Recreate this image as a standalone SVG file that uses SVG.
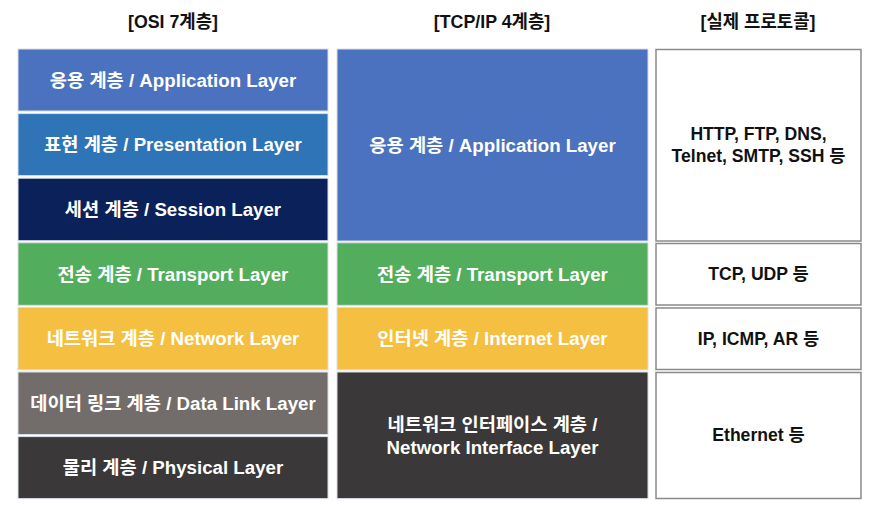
<svg xmlns="http://www.w3.org/2000/svg" width="872" height="505" viewBox="0 0 872 505">
<style>
text{font-family:"Liberation Sans","Noto Sans CJK KR",sans-serif;font-weight:bold;text-anchor:middle;dominant-baseline:central}
.h{font-size:17.8px;fill:#111}
.w{font-size:18.7px;fill:#fff}
.b{font-size:17.6px;fill:#111}
.box{stroke:#d9dde6;stroke-width:1}
.pr{fill:#fff;stroke:#8a8a8a;stroke-width:1.5}
</style>
<rect width="872" height="505" fill="#fff"/>
<g id="headers">
<text class="h" x="173" y="22">[OSI 7계층]</text>
<text class="h" x="492" y="22">[TCP/IP 4계층]</text>
<text class="h" x="758" y="22">[실제 프로토콜]</text>
</g>
<g id="osi-application"><rect class="box" x="18" y="49" width="310" height="62" fill="#4b72be"/><text class="w" x="173" y="80">응용 계층 / Application Layer</text></g>
<g id="osi-presentation"><rect class="box" x="18" y="113.6" width="310" height="62" fill="#2e74b7"/><text class="w" x="173" y="144.6">표현 계층 / Presentation Layer</text></g>
<g id="osi-session"><rect class="box" x="18" y="178.2" width="310" height="62.5" fill="#0b215a"/><text class="w" x="173" y="209.5">세션 계층 / Session Layer</text></g>
<g id="osi-transport"><rect class="box" x="18" y="242.8" width="310" height="62.5" fill="#52ad5c"/><text class="w" x="173" y="274">전송 계층 / Transport Layer</text></g>
<g id="osi-network"><rect class="box" x="18" y="307.4" width="310" height="62.5" fill="#f5bf41"/><text class="w" x="173" y="338.6">네트워크 계층 / Network Layer</text></g>
<g id="osi-datalink"><rect class="box" x="18" y="372" width="310" height="62.5" fill="#726d6b"/><text class="w" x="173" y="403.3">데이터 링크 계층 / Data Link Layer</text></g>
<g id="osi-physical"><rect class="box" x="18" y="436.6" width="310" height="62" fill="#3a3838"/><text class="w" x="173" y="467.6">물리 계층 / Physical Layer</text></g>
<g id="tcp-application"><rect class="box" x="337" y="49" width="311" height="192" fill="#4b72be"/><text class="w" x="492.5" y="145">응용 계층 / Application Layer</text></g>
<g id="tcp-transport"><rect class="box" x="337" y="242.8" width="311" height="62.5" fill="#52ad5c"/><text class="w" x="492.5" y="274">전송 계층 / Transport Layer</text></g>
<g id="tcp-internet"><rect class="box" x="337" y="307.4" width="311" height="62.5" fill="#f5bf41"/><text class="w" x="492.5" y="338.6">인터넷 계층 / Internet Layer</text></g>
<g id="tcp-netif"><rect class="box" x="337" y="372" width="311" height="126.6" fill="#3a3838"/><text class="w" x="492.5" y="424">네트워크 인터페이스 계층 /</text><text class="w" x="492.5" y="447">Network Interface Layer</text></g>
<g id="proto-app"><rect class="pr" x="656" y="49.5" width="205" height="191.5"/><text class="b" x="758.5" y="134">HTTP, FTP, DNS,</text><text class="b" x="758.5" y="156">Telnet, SMTP, SSH 등</text></g>
<g id="proto-transport"><rect class="pr" x="656" y="243.5" width="205" height="61.5"/><text class="b" x="758.5" y="274">TCP, UDP 등</text></g>
<g id="proto-internet"><rect class="pr" x="656" y="308" width="205" height="61.5"/><text class="b" x="758.5" y="338.6">IP, ICMP, AR 등</text></g>
<g id="proto-link"><rect class="pr" x="656" y="372.5" width="205" height="126"/><text class="b" x="758.5" y="435">Ethernet 등</text></g>
<g id="connectors"/>
</svg>
